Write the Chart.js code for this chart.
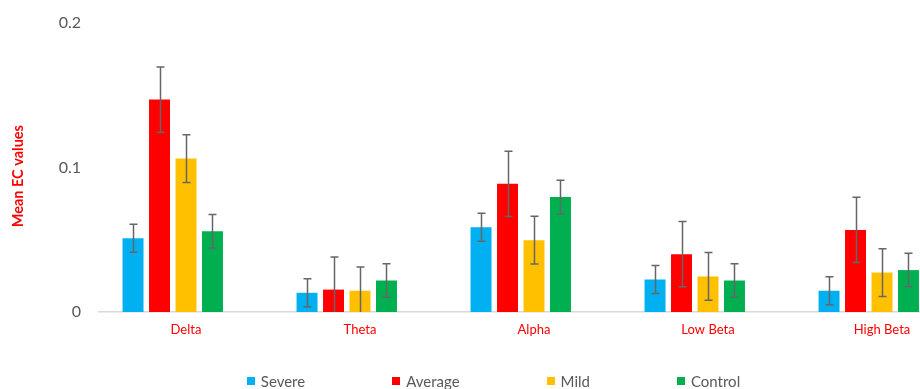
<!DOCTYPE html>
<html>
<head>
<meta charset="utf-8">
<script src="https://cdn.jsdelivr.net/npm/chart.js@4/dist/chart.umd.min.js"></script>
<style>
  html, body { margin: 0; padding: 0; background: #fff; overflow: hidden; }
  #wrap { position: relative; width: 987px; height: 389px; }
  #legend {
    position: absolute; left: 0; top: 372px; width: 987px;
    display: flex; justify-content: center; gap: 87px;
    font-family: Lato, "Open Sans", sans-serif; font-size: 15px; color: #595959;
    line-height: 18px;
  }
  #legend span.item { display: flex; align-items: center; }
  #legend i { display: inline-block; width: 8px; height: 8px; margin-right: 6px; }
</style>
</head>
<body>
<div id="wrap">
  <canvas id="c" width="987" height="389"></canvas>
  <div id="legend"></div>
</div>
<script>
// EEG frequency bands
const bands = ['Delta', 'Theta', 'Alpha', 'Low Beta', 'High Beta'];

// Mean EC values per group
const severe  = [0.0510, 0.0133, 0.0586, 0.0225, 0.0147];
const average = [0.1470, 0.0155, 0.0887, 0.0400, 0.0568];
const mild    = [0.1062, 0.0147, 0.0497, 0.0246, 0.0273];
const control = [0.0559, 0.0218, 0.0795, 0.0218, 0.0290];

// Standard error per group
const severeErr  = [0.0097, 0.0097, 0.0097, 0.0097, 0.0097];
const averageErr = [0.0226, 0.0226, 0.0226, 0.0226, 0.0226];
const mildErr    = [0.0165, 0.0165, 0.0165, 0.0165, 0.0165];
const controlErr = [0.0116, 0.0116, 0.0116, 0.0116, 0.0116];

// Empty fifth slot in each cluster
const blank = [null, null, null, null, null];

const yTicks = [0, 0.1, 0.2];
const yTitle = 'Mean EC values';

const groups = [
  { label: 'Severe',  data: severe,  err: severeErr,  color: '#00B0F0' },
  { label: 'Average', data: average, err: averageErr, color: '#FF0000' },
  { label: 'Mild',    data: mild,    err: mildErr,    color: '#FFC000' },
  { label: 'Control', data: control, err: controlErr, color: '#00B050' }
];

const datasets = groups.map(g => ({
  label: g.label,
  data: g.data,
  errors: g.err,
  backgroundColor: g.color,
  borderWidth: 0,
  categoryPercentage: 0.761,
  barPercentage: 0.792
}));
datasets.push({ label: '', data: blank, backgroundColor: 'rgba(0,0,0,0)', categoryPercentage: 0.761, barPercentage: 0.792 });

// Whiskers of +/- one standard error, clipped at the axis minimum
const errorBars = {
  id: 'errorBars',
  afterDatasetsDraw(chart) {
    const ctx = chart.ctx;
    const y = chart.scales.y;
    ctx.save();
    ctx.strokeStyle = '#666666';
    ctx.lineWidth = 1.5;
    chart.data.datasets.forEach((ds, i) => {
      if (!ds.errors) return;
      const meta = chart.getDatasetMeta(i);
      meta.data.forEach((bar, j) => {
        const v = ds.data[j], e = ds.errors[j];
        if (v == null) return;
        const x = Math.round(bar.x) + 0.5;
        const top = y.getPixelForValue(v + e);
        const bot = y.getPixelForValue(Math.max(y.min, v - e));
        ctx.beginPath();
        ctx.moveTo(x, top); ctx.lineTo(x, bot);
        ctx.moveTo(x - 4, top); ctx.lineTo(x + 4, top);
        if (v - e > y.min) { ctx.moveTo(x - 4, bot); ctx.lineTo(x + 4, bot); }
        ctx.stroke();
      });
    });
    ctx.restore();
  }
};

// Rotated value-axis title, sitting a little below the plot's midline
const axisTitle = {
  id: 'axisTitle',
  afterDraw(chart) {
    const { ctx, chartArea } = chart;
    const cy = chartArea.top + (chartArea.bottom - chartArea.top) * 0.53;
    ctx.save();
    ctx.translate(18.5, cy);
    ctx.rotate(-Math.PI / 2);
    ctx.font = 'bold 14.5px Lato';
    ctx.fillStyle = '#FF0000';
    ctx.textAlign = 'center';
    ctx.textBaseline = 'middle';
    ctx.fillText(yTitle, 0, 0);
    ctx.restore();
  }
};

new Chart(document.getElementById('c'), {
  type: 'bar',
  data: { labels: bands, datasets },
  options: {
    responsive: false,
    animation: false,
    layout: { padding: { left: 0, right: 18, top: 23, bottom: 52 } },
    plugins: { legend: { display: false }, tooltip: { enabled: false } },
    scales: {
      x: {
        grid: { display: false, drawTicks: false },
        border: { display: true, color: '#D9D9D9', width: 1.5 },
        ticks: {
          color: '#FF0000',
          font: { family: 'Lato', size: 13 },
          padding: 10
        },
        afterFit(scale) { scale.height = 25; }
      },
      y: {
        min: 0, max: 0.2,
        afterBuildTicks(scale) { scale.ticks = yTicks.map(v => ({ value: v })); },
        grid: { display: false, drawTicks: false },
        border: { display: false },
        ticks: {
          color: '#595959',
          font: { family: 'Lato', size: 16 },
          padding: 18,
          callback: v => String(v)
        },
        afterFit(scale) {
          scale.width = 99;
          scale.paddingTop = 0;
          scale.paddingBottom = 0;
        }
      }
    }
  },
  plugins: [errorBars, axisTitle]
});

// Legend
const legend = document.getElementById('legend');
groups.forEach(g => {
  const item = document.createElement('span');
  item.className = 'item';
  const box = document.createElement('i');
  box.style.background = g.color;
  item.appendChild(box);
  item.appendChild(document.createTextNode(g.label));
  legend.appendChild(item);
});
</script>
</body>
</html>
